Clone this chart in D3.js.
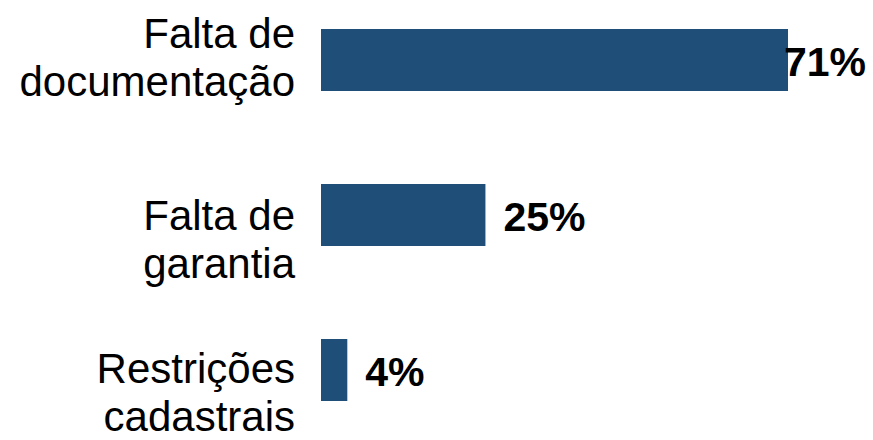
<!DOCTYPE html>
<html><head><meta charset="utf-8">
<script src="https://cdn.jsdelivr.net/npm/d3@7"></script>
<style>
html,body{margin:0;padding:0;background:#fff;}
svg{display:block;}
</style></head>
<body>
<svg id="chart" width="873" height="440"></svg>
<script>
// Data
const categories = ["Falta de documentação", "Falta de garantia", "Restrições cadastrais"];
const labelLines = [["Falta de", "documentação"], ["Falta de", "garantia"], ["Restrições", "cadastrais"]];
const values = [71, 25, 4];
const valueLabels = ["71%", "25%", "4%"];

// Layout (styling only)
const W = 873, H = 440;
const labelShift = [-27, 0, -2]; // vertical nudge of category label blocks
const lineGap = 48;
const fontSize = 42;
const valFontSize = 41;
const barColor = "#1f4e79";

const svg = d3.select("#chart");

const x = d3.scaleLinear().domain([0, 71]).range([321, 788]);
const y = d3.scaleBand().domain(categories).range([-17.5, 447.5]).paddingInner(0.6).paddingOuter(0.3);

// Bars
svg.selectAll("rect.bar").data(categories).join("rect")
  .attr("class", "bar")
  .attr("x", x(0))
  .attr("y", d => y(d))
  .attr("width", (d, i) => x(values[i]) - x(0))
  .attr("height", y.bandwidth())
  .attr("fill", barColor);

// Category labels
const catG = svg.selectAll("text.cat").data(categories).join("text")
  .attr("class", "cat")
  .attr("text-anchor", "end")
  .attr("font-family", "'Liberation Sans', Arial, sans-serif")
  .attr("font-size", fontSize)
  .attr("fill", "#000");
catG.each(function(d, i) {
  const t = d3.select(this);
  const cy = y(d) + y.bandwidth() / 2 + labelShift[i];
  labelLines[i].forEach((ln, j) => {
    t.append("tspan")
      .attr("x", 295)
      .attr("y", cy + fontSize * 0.358 + j * lineGap)
      .text(ln);
  });
});

// Value labels
svg.selectAll("text.val").data(categories).join("text")
  .attr("class", "val")
  .attr("font-family", "'Liberation Sans', Arial, sans-serif")
  .attr("font-weight", "bold")
  .attr("font-size", valFontSize)
  .attr("fill", "#000")
  .attr("y", (d, i) => y(d) + y.bandwidth() / 2)
  .attr("dy", "0.4em")
  .text((d, i) => valueLabels[i])
  .each(function(d, i) {
    const w = this.getComputedTextLength();
    const px = Math.min(x(values[i]) + 18, W - 7 - w);
    d3.select(this).attr("x", px);
  });
</script>
</body></html>
